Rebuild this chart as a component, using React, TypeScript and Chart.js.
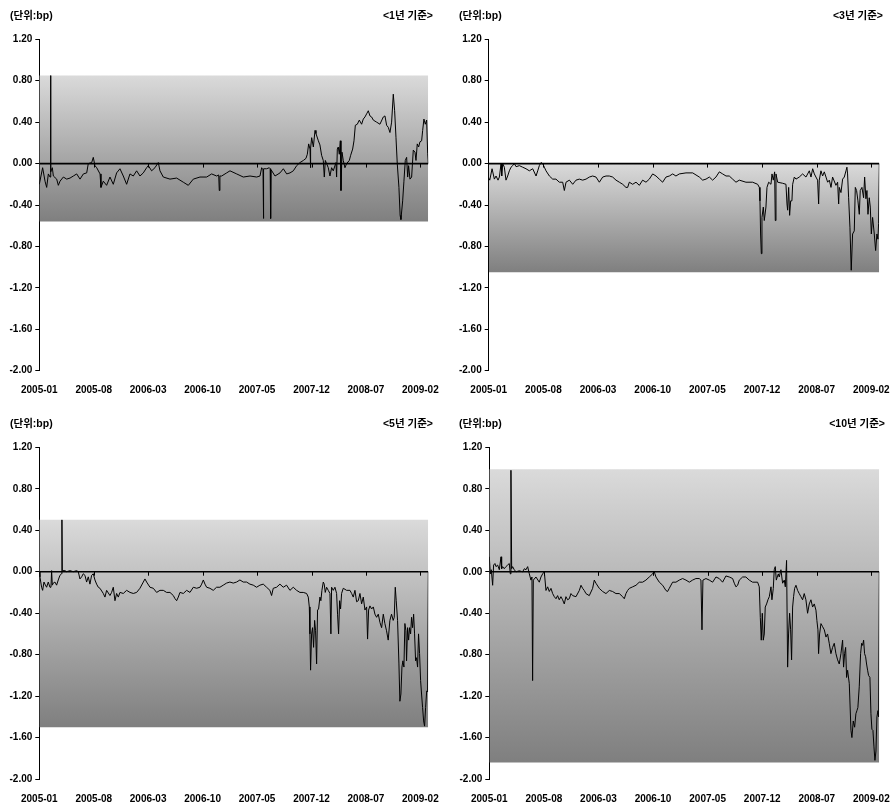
import React, { useEffect, useRef } from "react";
import { Chart, registerables } from "chart.js";

Chart.register(...registerables);

// ---- data (x = months since 2005-01, y = spread in bp) ----
const xTickPos = [0, 6.86, 13.71, 20.57, 27.43, 34.29, 41.14, 48];
const xLabels = ["2005-01", "2005-08", "2006-03", "2006-10", "2007-05", "2007-12", "2008-07", "2009-02"];
const yTicks = [-2.0, -1.6, -1.2, -0.8, -0.4, 0.0, 0.4, 0.8, 1.2];

const titles = ["<1년 기준>", "<3년 기준>", "<5년 기준>", "<10년 기준>"];
const bandTops = [0.85, 0.0, 0.5, 0.99];
const bandBottoms = [-0.56, -1.05, -1.5, -1.84];

const s1: number[][] = [[0,-0.20],[0.42,-0.04],[0.72,-0.17],[0.93,-0.23],[1.14,-0.10],[1.35,-0.13],[1.42,-0.10],[1.44,0.85],[1.46,-0.08],[1.64,-0.04],[1.77,-0.12],[2.19,-0.15],[2.40,-0.21],[2.61,-0.17],[3.03,-0.13],[3.45,-0.15],[3.87,-0.14],[4.29,-0.12],[4.71,-0.10],[5.13,-0.15],[5.55,-0.10],[5.97,-0.09],[6.17,0.0],[6.60,0.01],[6.80,0.06],[7.01,-0.02],[7.23,-0.04],[7.65,-0.10],[7.77,-0.23],[8.06,-0.17],[8.48,-0.21],[8.90,-0.13],[9.32,-0.20],[9.74,-0.09],[10.16,-0.05],[10.58,-0.12],[11.00,-0.20],[11.42,-0.10],[11.84,-0.12],[12.26,-0.07],[12.68,-0.12],[13.10,-0.09],[13.52,-0.04],[13.73,-0.02],[14.15,-0.07],[14.57,-0.04],[14.99,0.01],[15.20,-0.07],[15.62,-0.13],[16.46,-0.15],[17.30,-0.14],[18.14,-0.18],[18.77,-0.21],[19.40,-0.15],[20.24,-0.13],[21.08,-0.13],[21.71,-0.10],[22.34,-0.12],[22.60,-0.11],[22.67,-0.26],[22.75,-0.12],[22.97,-0.12],[23.60,-0.09],[24.02,-0.07],[24.86,-0.10],[25.70,-0.13],[26.54,-0.12],[27.38,-0.13],[27.80,-0.12],[28.01,-0.04],[28.18,-0.06],[28.22,-0.53],[28.28,-0.05],[28.64,-0.05],[28.97,-0.04],[29.08,-0.05],[29.14,-0.53],[29.20,-0.06],[29.69,-0.12],[30.32,-0.09],[30.74,-0.05],[31.16,-0.10],[31.58,-0.09],[32.00,-0.07],[32.42,-0.02],[32.84,0.01],[33.26,0.03],[33.59,0.05],[33.76,0.09],[33.93,0.19],[34.10,0.14],[34.15,-0.04],[34.20,0.15],[34.31,0.25],[34.52,0.16],[34.73,0.32],[34.85,0.29],[35.15,0.22],[35.35,0.18],[35.56,0.08],[35.77,0.03],[35.90,-0.13],[36.03,0.03],[36.19,0.0],[36.40,-0.04],[36.61,-0.12],[36.82,-0.04],[37.03,-0.07],[37.37,0.01],[37.45,-0.13],[37.54,0.14],[37.66,0.16],[37.79,0.09],[37.92,0.22],[38.00,-0.26],[38.13,0.11],[38.29,0.03],[38.50,-0.04],[38.71,0.0],[39.05,0.03],[39.22,0.08],[39.47,0.14],[39.64,0.22],[39.81,0.37],[40.06,0.38],[40.31,0.42],[40.60,0.38],[40.81,0.43],[41.02,0.45],[41.23,0.48],[41.44,0.51],[41.65,0.46],[41.86,0.45],[42.07,0.42],[42.49,0.40],[42.91,0.38],[43.33,0.45],[43.54,0.46],[43.75,0.37],[43.96,0.35],[44.17,0.30],[44.38,0.40],[44.59,0.67],[44.76,0.51],[44.93,0.25],[45.09,0.0],[45.30,-0.23],[45.45,-0.50],[45.55,-0.54],[45.77,-0.36],[45.93,-0.17],[46.10,0.03],[46.27,0.06],[46.40,-0.13],[46.52,-0.02],[46.69,-0.15],[46.90,-0.13],[47.11,0.13],[47.32,0.11],[47.45,0.03],[47.61,0.19],[47.78,0.16],[47.95,0.21],[48.16,0.22],[48.29,0.32],[48.45,0.43],[48.62,0.38],[48.79,0.42],[48.92,0.10],[49,0]];

const s3: number[][] = [[0.0,-0.14],[0.13,-0.16],[0.42,-0.05],[0.71,-0.15],[0.92,-0.12],[1.17,-0.16],[1.34,-0.13],[1.55,0.0],[1.63,-0.12],[1.76,0.0],[1.96,-0.035],[2.17,-0.16],[2.38,-0.12],[2.59,-0.07],[2.80,-0.035],[3.01,-0.02],[3.22,0.0],[3.43,-0.03],[3.85,-0.02],[4.26,-0.035],[4.68,-0.05],[5.10,-0.07],[5.52,-0.05],[5.94,-0.12],[6.15,-0.07],[6.35,-0.02],[6.56,0.01],[6.77,0.0],[6.98,-0.035],[7.19,-0.07],[7.61,-0.12],[8.03,-0.15],[8.44,-0.15],[8.86,-0.18],[9.28,-0.18],[9.49,-0.26],[9.70,-0.18],[10.12,-0.16],[10.54,-0.20],[10.95,-0.16],[11.37,-0.15],[11.79,-0.16],[12.21,-0.15],[12.63,-0.13],[13.04,-0.12],[13.46,-0.13],[13.88,-0.18],[14.30,-0.13],[14.72,-0.12],[15.13,-0.12],[15.55,-0.13],[15.97,-0.16],[16.39,-0.18],[16.81,-0.20],[17.22,-0.23],[17.43,-0.23],[17.64,-0.18],[18.06,-0.20],[18.48,-0.18],[18.90,-0.21],[19.31,-0.16],[19.73,-0.18],[20.15,-0.15],[20.57,-0.10],[20.99,-0.12],[21.40,-0.15],[21.82,-0.18],[22.24,-0.13],[22.66,-0.12],[23.08,-0.10],[23.49,-0.12],[23.91,-0.10],[24.75,-0.09],[25.59,-0.09],[26.42,-0.13],[26.84,-0.16],[27.26,-0.15],[27.68,-0.13],[28.09,-0.16],[28.51,-0.13],[28.93,-0.08],[29.35,-0.10],[29.77,-0.12],[30.18,-0.12],[30.60,-0.15],[31.02,-0.18],[31.44,-0.16],[32.27,-0.18],[33.11,-0.18],[33.74,-0.20],[33.95,-0.23],[34.03,-0.36],[34.11,-0.68],[34.20,-0.87],[34.28,-0.52],[34.45,-0.42],[34.57,-0.55],[34.78,-0.42],[34.91,-0.23],[35.12,-0.18],[35.41,-0.20],[35.54,-0.10],[35.70,-0.16],[35.87,-0.08],[35.95,-0.55],[36.04,-0.10],[36.25,-0.18],[36.87,-0.19],[37.29,-0.20],[37.42,-0.39],[37.50,-0.45],[37.63,-0.23],[37.75,-0.50],[37.88,-0.36],[38.04,-0.36],[38.13,-0.20],[38.34,-0.13],[38.55,-0.15],[38.96,-0.13],[39.38,-0.10],[39.80,-0.13],[40.22,-0.07],[40.43,-0.13],[40.64,-0.05],[40.85,-0.10],[41.05,-0.13],[41.26,-0.16],[41.39,-0.39],[41.47,-0.16],[41.68,-0.07],[41.89,-0.12],[42.10,-0.08],[42.31,-0.13],[42.52,-0.18],[42.73,-0.16],[42.94,-0.23],[43.14,-0.13],[43.56,-0.21],[43.77,-0.18],[43.90,-0.39],[43.98,-0.23],[44.19,-0.28],[44.40,-0.15],[44.61,-0.13],[44.82,-0.07],[44.94,-0.035],[45.02,-0.10],[45.15,-0.33],[45.32,-0.62],[45.48,-1.03],[45.65,-0.68],[45.86,-0.65],[45.99,-0.23],[46.15,-0.26],[46.32,-0.36],[46.49,-0.49],[46.61,-0.26],[46.82,-0.23],[47.03,-0.33],[47.16,-0.13],[47.32,-0.34],[47.45,-0.26],[47.58,-0.49],[47.74,-0.33],[47.87,-0.42],[48.00,-0.68],[48.16,-0.52],[48.37,-0.68],[48.54,-0.84],[48.70,-0.68],[48.83,-0.73],[48.91,-0.58],[49,0]];

const s5: number[][] = [[0,0],[0.08,-0.05],[0.29,-0.15],[0.42,-0.18],[0.59,-0.10],[0.71,-0.12],[0.92,-0.15],[1.13,-0.10],[1.34,-0.15],[1.47,-0.15],[1.55,0.01],[1.64,-0.13],[1.76,-0.11],[1.97,-0.10],[2.18,-0.13],[2.39,-0.08],[2.60,-0.035],[2.81,-0.02],[2.85,0.50],[2.90,0.01],[3.23,0.01],[3.44,0.0],[3.86,0.01],[4.28,0.0],[4.70,0.01],[4.91,0.0],[5.12,-0.07],[5.33,-0.05],[5.54,-0.02],[5.75,-0.035],[5.96,-0.10],[6.17,-0.05],[6.38,-0.12],[6.59,-0.035],[6.80,-0.02],[7.01,-0.08],[7.22,-0.12],[7.43,-0.15],[7.64,-0.16],[8.06,-0.21],[8.27,-0.245],[8.48,-0.18],[8.90,-0.23],[9.11,-0.20],[9.32,-0.15],[9.53,-0.28],[9.74,-0.21],[9.95,-0.245],[10.16,-0.20],[10.58,-0.21],[11.00,-0.18],[11.42,-0.20],[11.84,-0.21],[12.26,-0.20],[12.68,-0.16],[13.10,-0.10],[13.31,-0.07],[13.52,-0.10],[13.94,-0.15],[14.36,-0.16],[14.78,-0.20],[15.20,-0.18],[15.62,-0.18],[16.04,-0.20],[16.46,-0.20],[16.88,-0.23],[17.09,-0.26],[17.30,-0.28],[17.51,-0.245],[17.72,-0.20],[18.14,-0.21],[18.56,-0.18],[18.98,-0.20],[19.40,-0.15],[19.82,-0.16],[20.24,-0.15],[20.45,-0.12],[20.66,-0.08],[20.87,-0.12],[21.08,-0.15],[21.49,-0.16],[21.91,-0.18],[22.33,-0.15],[22.75,-0.15],[23.17,-0.13],[23.59,-0.11],[24.01,-0.10],[24.43,-0.11],[24.85,-0.10],[25.27,-0.08],[25.69,-0.10],[26.11,-0.10],[26.53,-0.12],[26.95,-0.13],[27.37,-0.15],[27.79,-0.13],[28.21,-0.12],[28.63,-0.15],[29.05,-0.18],[29.26,-0.23],[29.47,-0.16],[29.89,-0.15],[30.31,-0.12],[30.73,-0.15],[31.15,-0.13],[31.57,-0.18],[31.99,-0.15],[32.41,-0.18],[32.83,-0.20],[33.25,-0.20],[33.67,-0.21],[33.88,-0.245],[34.01,-0.34],[34.09,-0.60],[34.17,-0.95],[34.30,-0.60],[34.42,-0.54],[34.55,-0.73],[34.68,-0.47],[34.80,-0.57],[34.93,-0.89],[35.05,-0.37],[35.18,-0.36],[35.35,-0.245],[35.47,-0.28],[35.60,-0.18],[35.77,-0.10],[35.89,-0.12],[36.02,-0.20],[36.19,-0.15],[36.40,-0.18],[36.61,-0.21],[36.73,-0.60],[36.82,-0.15],[37.03,-0.18],[37.24,-0.15],[37.45,-0.21],[37.57,-0.41],[37.70,-0.60],[37.83,-0.28],[37.95,-0.36],[38.08,-0.21],[38.29,-0.16],[38.71,-0.18],[39.13,-0.18],[39.34,-0.21],[39.55,-0.245],[39.76,-0.18],[39.97,-0.29],[40.18,-0.28],[40.39,-0.21],[40.60,-0.31],[40.81,-0.245],[41.02,-0.37],[41.23,-0.34],[41.35,-0.65],[41.48,-0.37],[41.65,-0.33],[41.86,-0.36],[42.07,-0.34],[42.28,-0.41],[42.49,-0.44],[42.70,-0.41],[42.91,-0.49],[43.12,-0.54],[43.33,-0.41],[43.53,-0.50],[43.74,-0.57],[43.95,-0.66],[44.16,-0.47],[44.37,-0.41],[44.58,-0.47],[44.71,-0.44],[44.84,-0.15],[44.96,-0.28],[45.13,-0.47],[45.30,-0.89],[45.42,-1.25],[45.55,-1.18],[45.68,-0.92],[45.80,-0.86],[45.93,-0.92],[46.05,-0.50],[46.18,-0.57],[46.26,-0.86],[46.39,-0.54],[46.52,-0.66],[46.64,-0.54],[46.77,-0.60],[46.89,-0.44],[47.02,-0.54],[47.15,-0.41],[47.27,-0.60],[47.40,-0.86],[47.52,-0.83],[47.65,-0.92],[47.77,-0.60],[47.90,-0.79],[48.03,-1.05],[48.15,-1.18],[48.28,-1.31],[48.41,-1.44],[48.53,-1.49],[48.66,-1.31],[48.80,-1.15],[48.91,-1.16],[49,0]];

const s10: number[][] = [[0,0.145],[0.13,-0.02],[0.25,0.02],[0.42,-0.13],[0.54,0.065],[0.71,0.08],[0.84,0.05],[1.05,0.065],[1.26,0.02],[1.47,0.145],[1.55,0.03],[1.68,0.05],[1.88,0.03],[2.09,0.05],[2.30,0.065],[2.51,0.08],[2.64,-0.02],[2.72,0.98],[2.81,0.03],[2.93,0.05],[3.14,0.02],[3.35,0.0],[3.77,0.01],[4.19,0.0],[4.40,0.03],[4.61,0.02],[4.82,0.05],[5.03,-0.02],[5.23,-0.08],[5.36,-0.05],[5.44,-1.05],[5.53,-0.08],[5.86,-0.05],[6.28,-0.10],[6.49,-0.05],[6.70,-0.02],[6.91,0.0],[7.12,-0.18],[7.33,-0.145],[7.54,-0.19],[7.75,-0.16],[7.96,-0.21],[8.17,-0.24],[8.38,-0.26],[8.58,-0.23],[8.79,-0.27],[9.00,-0.24],[9.21,-0.27],[9.42,-0.31],[9.63,-0.24],[9.84,-0.27],[10.05,-0.26],[10.26,-0.21],[10.47,-0.23],[10.89,-0.24],[11.31,-0.18],[11.52,-0.13],[11.73,-0.16],[11.93,-0.18],[12.14,-0.21],[12.56,-0.23],[12.98,-0.16],[13.19,-0.08],[13.40,-0.11],[13.82,-0.16],[14.24,-0.19],[14.66,-0.21],[15.08,-0.18],[15.49,-0.19],[15.91,-0.21],[16.33,-0.21],[16.75,-0.24],[16.96,-0.26],[17.17,-0.21],[17.38,-0.18],[17.59,-0.16],[18.01,-0.145],[18.43,-0.13],[18.84,-0.10],[19.26,-0.10],[19.68,-0.08],[20.10,-0.05],[20.52,-0.02],[20.73,0.0],[20.94,-0.05],[21.36,-0.10],[21.78,-0.13],[22.19,-0.18],[22.40,-0.19],[22.61,-0.16],[23.03,-0.10],[23.45,-0.10],[23.87,-0.08],[24.29,-0.065],[24.71,-0.08],[25.13,-0.10],[25.54,-0.08],[25.96,-0.065],[26.38,-0.065],[26.59,-0.08],[26.72,-0.56],[26.84,-0.08],[27.22,-0.065],[27.64,-0.08],[28.06,-0.10],[28.48,-0.05],[28.89,-0.065],[29.31,-0.10],[29.73,-0.04],[30.15,-0.05],[30.57,-0.065],[30.78,-0.11],[30.99,-0.145],[31.20,-0.13],[31.41,-0.08],[31.83,-0.05],[32.24,-0.05],[32.66,-0.08],[33.08,-0.10],[33.71,-0.10],[33.92,-0.145],[34.05,-0.44],[34.17,-0.66],[34.30,-0.40],[34.42,-0.66],[34.55,-0.60],[34.67,-0.34],[34.84,-0.31],[35.01,-0.27],[35.18,-0.24],[35.39,-0.145],[35.51,-0.27],[35.68,-0.16],[35.80,0.02],[35.93,0.05],[36.06,-0.08],[36.18,-0.05],[36.31,-0.02],[36.43,-0.05],[36.64,0.02],[36.85,-0.11],[37.06,-0.08],[37.19,-0.145],[37.35,0.11],[37.48,-0.92],[37.60,-0.60],[37.73,-0.40],[37.86,-0.56],[37.98,-0.85],[38.11,-0.34],[38.23,-0.24],[38.36,-0.16],[38.53,-0.13],[38.74,-0.18],[38.94,-0.21],[39.15,-0.24],[39.36,-0.27],[39.57,-0.21],[39.78,-0.27],[39.99,-0.40],[40.20,-0.31],[40.41,-0.27],[40.62,-0.34],[40.83,-0.31],[41.04,-0.37],[41.16,-0.47],[41.29,-0.56],[41.37,-0.79],[41.50,-0.60],[41.67,-0.50],[41.88,-0.53],[42.09,-0.56],[42.30,-0.63],[42.50,-0.60],[42.71,-0.69],[42.92,-0.79],[43.13,-0.73],[43.34,-0.69],[43.55,-0.79],[43.76,-0.85],[43.97,-0.89],[44.18,-0.79],[44.39,-0.66],[44.51,-0.92],[44.64,-0.79],[44.77,-0.73],[44.89,-1.02],[45.02,-0.95],[45.23,-1.08],[45.44,-1.53],[45.56,-1.60],[45.73,-1.44],[45.90,-1.50],[46.06,-1.37],[46.19,-1.34],[46.31,-1.31],[46.48,-1.11],[46.65,-0.79],[46.78,-0.69],[46.90,-0.71],[47.03,-0.66],[47.15,-0.79],[47.28,-0.82],[47.40,-0.89],[47.53,-0.95],[47.65,-1.00],[47.82,-1.02],[47.95,-1.37],[48.07,-1.52],[48.20,-1.53],[48.33,-1.69],[48.45,-1.82],[48.58,-1.73],[48.70,-1.40],[48.83,-1.34],[48.91,-1.40],[49,0]];

const seriesList = [s1, s3, s5, s10];

// ---- layout (page pixels) ----
const panelBoxes = [
  { left: 0, top: 0, w: 446, h: 403, yw: 39.3, padTop: 39.3, padRight: 17.7, padBottom: 6.3 },
  { left: 446, top: 0, w: 447, h: 403, yw: 42.7, padTop: 39.3, padRight: 13.7, padBottom: 6.3 },
  { left: 0, top: 403, w: 446, h: 404, yw: 39.3, padTop: 44.3, padRight: 17.7, padBottom: 2 },
  { left: 446, top: 403, w: 447, h: 404, yw: 43.3, padTop: 44.5, padRight: 13.7, padBottom: 2 },
];
const unitTitlePos = [
  { left: 10, top: 9 },
  { left: 459, top: 9 },
  { left: 10, top: 417 },
  { left: 459, top: 417 },
];
const sideTitlePos = [
  { right: 460, top: 9 },
  { right: 10, top: 9 },
  { right: 460, top: 417 },
  { right: 8, top: 417 },
];

const FONT = "'Liberation Sans', Arial, 'Noto Sans CJK KR', sans-serif";

const zeroTicksPlugin = {
  id: "zeroTicks",
  afterDatasetsDraw(chart: any) {
    const { ctx, scales } = chart;
    const y0 = scales.y.getPixelForValue(0);
    ctx.save();
    ctx.strokeStyle = "#000";
    ctx.lineWidth = 1;
    for (let i = 1; i < xTickPos.length; i++) {
      const px = Math.round(scales.x.getPixelForValue(xTickPos[i])) + 0.5;
      ctx.beginPath();
      ctx.moveTo(px, y0);
      ctx.lineTo(px, y0 + 4);
      ctx.stroke();
    }
    ctx.restore();
  },
};

function Panel({ idx }: { idx: number }) {
  const ref = useRef<HTMLCanvasElement>(null);
  useEffect(() => {
    const box = panelBoxes[idx];
    const series = seriesList[idx];
    const top = bandTops[idx];
    const bottom = bandBottoms[idx];
    const bandColor = (c: any) => {
      const chart = c.chart;
      const area = chart.chartArea;
      if (!area) return "#b0b0b0";
      const yS = chart.scales.y;
      const g = chart.ctx.createLinearGradient(0, yS.getPixelForValue(top), 0, yS.getPixelForValue(bottom));
      g.addColorStop(0, "#dadada");
      g.addColorStop(1, "#7f7f7f");
      return g;
    };
    const chart = new Chart(ref.current!, {
      type: "line",
      data: {
        datasets: [
          {
            data: [{ x: 0, y: 0 }, { x: 49, y: 0 }],
            borderColor: "#000",
            borderWidth: 1.6,
            pointRadius: 0,
            fill: false,
          },
          {
            data: series.map(([x, y]) => ({ x, y })),
            borderColor: "#000",
            borderWidth: 1,
            pointRadius: 0,
            tension: 0,
            fill: false,
          },
          {
            data: [{ x: 0, y: top }, { x: 49, y: top }],
            borderWidth: 0,
            borderColor: "rgba(0,0,0,0)",
            pointRadius: 0,
            fill: "+1",
            backgroundColor: bandColor,
          },
          {
            data: [{ x: 0, y: bottom }, { x: 49, y: bottom }],
            borderWidth: 0,
            borderColor: "rgba(0,0,0,0)",
            pointRadius: 0,
            fill: false,
          },
        ],
      },
      options: {
        animation: false,
        responsive: false,
        devicePixelRatio: 1,
        events: [],
        layout: { padding: { top: box.padTop, left: 0, right: box.padRight, bottom: box.padBottom } },
        plugins: { legend: { display: false }, tooltip: { enabled: false }, title: { display: false } },
        scales: {
          x: {
            type: "linear",
            min: 0,
            max: 49,
            afterBuildTicks: (s: any) => {
              s.ticks = xTickPos.map((v) => ({ value: v }));
            },
            afterFit: (s: any) => {
              s.height = 26;
              s.paddingLeft = 0;
              s.paddingRight = 0;
            },
            grid: { display: false, drawTicks: false },
            border: { display: false },
            ticks: {
              autoSkip: false,
              maxRotation: 0,
              minRotation: 0,
              padding: 14,
              color: "#000",
              font: { family: FONT, size: 10, weight: "bold" },
              callback: (_v: any, i: number) => xLabels[i],
            },
          },
          y: {
            min: -2,
            max: 1.2,
            afterBuildTicks: (s: any) => {
              s.ticks = yTicks.map((v) => ({ value: v }));
            },
            afterFit: (s: any) => {
              s.width = box.yw;
              s.paddingTop = 0;
              s.paddingBottom = 0;
            },
            grid: { drawOnChartArea: false, drawTicks: true, tickLength: 4, color: "#000" },
            border: { display: true, color: "#000", width: 1 },
            ticks: {
              padding: 3,
              color: "#000",
              font: { family: FONT, size: 10, weight: "bold" },
              callback: (v: any) => Number(v).toFixed(2),
            },
          },
        },
      },
      plugins: [zeroTicksPlugin],
    } as any);
    return () => chart.destroy();
  }, [idx]);
  const box = panelBoxes[idx];
  return (
    <canvas
      ref={ref}
      width={box.w}
      height={box.h}
      style={{ position: "absolute", left: box.left, top: box.top, width: box.w, height: box.h }}
    />
  );
}

const titleStyle: React.CSSProperties = {
  position: "absolute",
  fontFamily: FONT,
  fontWeight: "bold",
  fontSize: "10.5px",
  lineHeight: "12px",
  whiteSpace: "nowrap",
  color: "#000",
};

export default function App() {
  return (
    <div style={{ position: "absolute", left: 0, top: 0, width: 893, height: 807, background: "#fff", overflow: "hidden" }}>
      {[0, 1, 2, 3].map((i) => (
        <Panel key={i} idx={i} />
      ))}
      {[0, 1, 2, 3].map((i) => (
        <div key={"u" + i} style={{ ...titleStyle, left: unitTitlePos[i].left, top: unitTitlePos[i].top }}>
          (단위:bp)
        </div>
      ))}
      {[0, 1, 2, 3].map((i) => (
        <div key={"t" + i} style={{ ...titleStyle, right: sideTitlePos[i].right, top: sideTitlePos[i].top }}>
          {titles[i]}
        </div>
      ))}
    </div>
  );
}
